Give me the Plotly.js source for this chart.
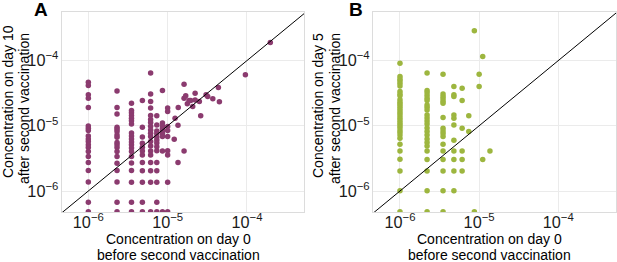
<!DOCTYPE html>
<html>
<head>
<meta charset="utf-8">
<script src="https://cdn.plot.ly/plotly-3.0.1.min.js"></script>
<style>html,body{margin:0;padding:0;background:#fff;}#chart{width:617px;height:262px;}</style>
</head>
<body>
<div id="chart"></div>
<script>
// ---------- Panel A: day 0 vs day 10 ----------
const aDay0Levels = [1.0e-6, 2.3e-6, 3.5e-6, 4.8e-6, 6.1e-6, 7.3e-6, 8.6e-6, 1.0e-5];
const aDay10ByLevel = [
  [4.67e-5, 4.14e-5, 2.98e-5, 2.65e-5, 1.90e-5, 9.96e-6, 9.18e-6, 8.44e-6, 7.0e-6, 6.3e-6, 5.72e-6, 5.1e-6, 4.63e-6, 4.02e-6, 3.37e-6, 2.73e-6, 2.06e-6, 1.37e-6, 6.7e-7, 4.8e-7],
  [3.43e-5, 1.9e-5, 1.51e-5, 9.5e-6, 8.87e-6, 8.15e-6, 7.24e-6, 6.68e-6, 5.52e-6, 5.1e-6, 4.63e-6, 4.02e-6, 3.37e-6, 2.67e-6, 2.06e-6, 1.37e-6, 6.7e-7, 4.8e-7],
  [2.22e-5, 1.72e-5, 1.58e-5, 1.44e-5, 1.31e-5, 1.2e-5, 1.07e-5, 7.78e-6, 7.0e-6, 6.3e-6, 5.66e-6, 5.1e-6, 4.58e-6, 4.05e-6, 3.37e-6, 2.69e-6, 2.06e-6, 1.36e-6, 6.7e-7, 4.8e-7],
  [2.45e-5, 9.5e-6, 6.76e-6, 5.4e-6, 4.7e-6, 4.1e-6, 3.56e-6, 2.73e-6, 2.05e-6, 1.36e-6, 6.7e-7, 4.8e-7],
  [6.47e-5, 3.06e-5, 2.35e-5, 1.88e-5, 1.44e-5, 1.25e-5, 1.12e-5, 9.8e-6, 8.65e-6, 7.7e-6, 6.83e-6, 5.72e-6, 4.92e-6, 4.12e-6, 3.58e-6, 2.73e-6, 2.05e-6, 1.36e-6, 4.8e-7],
  [1.42e-5, 1.03e-5, 8.35e-6, 7.52e-6, 6.76e-6, 6.08e-6, 5.47e-6, 4.75e-6, 4.15e-6, 2.73e-6, 2.05e-6, 1.36e-6, 6.7e-7, 4.8e-7],
  [3.49e-5, 1.1e-5, 9.96e-6, 9.12e-6, 8.35e-6, 7.64e-6, 6.83e-6, 4.12e-6, 4.8e-7],
  [1.88e-5, 1.65e-5, 9.72e-6, 8.44e-6, 6.83e-6, 4.15e-6, 3.58e-6, 1.36e-6, 4.8e-7]
];
const aExtraDay0  = [1.21e-5, 1.24e-5, 1.35e-5, 1.35e-5, 1.36e-5, 1.61e-5, 1.61e-5, 1.69e-5, 1.61e-5, 1.77e-5, 1.86e-5, 1.95e-5, 2.07e-5, 2.22e-5, 2.22e-5, 2.51e-5, 2.61e-5, 3.05e-5, 3.2e-5, 3.71e-5, 4.36e-5, 4.49e-5, 9.55e-5, 1.97e-4];
const aExtraDay10 = [6.22e-6, 1.31e-5, 1.02e-5, 2.73e-6, 1.9e-5, 4.35e-5, 2.65e-5, 2.88e-5, 4.12e-6, 2.17e-5, 2.44e-5, 2.44e-5, 1.97e-5, 3.16e-5, 2.49e-5, 2.35e-5, 1.42e-5, 2.98e-5, 2.81e-5, 2.59e-5, 3.85e-5, 2.33e-5, 6.04e-5, 1.89e-4];

// ---------- Panel B: day 0 vs day 5 ----------
const bDay0Levels = [1.0e-6, 2.2e-6, 3.5e-6, 4.8e-6, 6.1e-6, 7.4e-6, 8.7e-6, 1.0e-5, 1.11e-5, 1.37e-5];
const bDay5ByLevel = [
  [9.12e-5, 5.69e-5, 5.24e-5, 4.89e-5, 4.5e-5, 4.09e-5, 3.35e-5, 3.08e-5, 2.88e-5, 2.5e-5, 2.3e-5, 2.14e-5, 1.97e-5, 1.82e-5, 1.69e-5, 1.56e-5, 1.43e-5, 1.31e-5, 1.2e-5, 1.1e-5, 1.03e-5, 9.5e-6, 8.65e-6, 7.98e-6, 7.24e-6, 6.45e-6, 5.22e-6, 4.12e-6, 3.08e-6, 2.03e-6, 1.01e-6, 4.8e-7],
  [6.47e-5, 3.49e-5, 3.2e-5, 2.91e-5, 2.65e-5, 2.44e-5, 2.09e-5, 1.93e-5, 1.75e-5, 1.47e-5, 1.32e-5, 1.18e-5, 1.07e-5, 9.29e-6, 8.21e-6, 7.24e-6, 6.3e-6, 5.56e-6, 4.92e-6, 4.12e-6, 3.05e-6, 2.03e-6, 1.01e-6, 4.8e-7],
  [6.18e-5, 3.08e-5, 2.82e-5, 2.59e-5, 2.37e-5, 2.21e-5, 1.34e-5, 9.18e-6, 8.35e-6, 7.59e-6, 6.87e-6, 5.22e-6, 4.12e-6, 3.05e-6, 2.03e-6, 1.01e-6, 4.8e-7],
  [4.02e-5, 2.98e-5, 2.82e-5, 1.47e-5, 1.31e-5, 1.03e-5, 6.01e-6, 4.12e-6, 3.05e-6, 2.03e-6, 1.01e-6],
  [3.78e-5, 2.45e-5, 9.18e-6, 4.12e-6, 3.05e-6, 2.03e-6],
  [1.43e-5, 8.15e-6],
  [2.86e-4, 4.8e-7],
  [6.18e-5, 3.99e-5],
  [1.15e-4, 3.05e-6],
  [4.12e-6]
];

// ---------- Texts ----------
const xTitleLines = ['Concentration on day 0', 'before second vaccination'];
const yTitleLinesA = ['Concentration on day 10', 'after second vaccination'];
const yTitleLinesB = ['Concentration on day 5', 'after second vaccination'];
const panelLabels = ['A', 'B'];

const identityLine = [1e-7, 1e-3];
const FONT = 'Liberation Sans, Arial, sans-serif';
const tickFont = {family: FONT, size: 13, color: '#1a1a1a'};
const titleFont = {family: FONT, size: 14, color: '#000'};

function flatten(levels, byLevel) {
  const xs = [], ys = [];
  levels.forEach((lv, i) => byLevel[i].forEach(v => { xs.push(lv); ys.push(v); }));
  return {xs, ys};
}
const A = flatten(aDay0Levels, aDay10ByLevel);
const B = flatten(bDay0Levels, bDay5ByLevel);

const purple = '#8b3b6f';
const green = '#9db63f';

const traces = [
  {x: A.xs.concat(aExtraDay0), y: A.ys.concat(aExtraDay10), type: 'scatter', mode: 'markers',
   marker: {color: purple, size: 5.5}, xaxis: 'x', yaxis: 'y'},
  {x: identityLine, y: identityLine, type: 'scatter', mode: 'lines',
   line: {color: '#000', width: 1}, xaxis: 'x', yaxis: 'y'},
  {x: B.xs, y: B.ys, type: 'scatter', mode: 'markers',
   marker: {color: green, size: 5.5}, xaxis: 'x2', yaxis: 'y2'},
  {x: identityLine, y: identityLine, type: 'scatter', mode: 'lines',
   line: {color: '#000', width: 1}, xaxis: 'x2', yaxis: 'y2'}
];

const W = 617, PLOT_TOP = 12, PLOT_BOTTOM = 212, PH = 200;
const py = px => (PLOT_BOTTOM - px) / PH;   // pixel row -> paper y
const axCommon = {
  type: 'log', dtick: 1, exponentformat: 'power', showexponent: 'all',
  showgrid: true, gridcolor: '#ebebeb', gridwidth: 1,
  zeroline: false, showline: true, mirror: true, linecolor: '#dcdcdc', linewidth: 1,
  ticks: '', tickfont: tickFont, automargin: false
};
const xAx = Object.assign({}, axCommon, {ticklabelstandoff: -4});

function txt(text, xpx, ypx, angle, font) {
  return {text: text, xref: 'paper', yref: 'paper', x: xpx / W, y: py(ypx), showarrow: false,
          xanchor: 'center', yanchor: 'middle', textangle: angle || 0, font: font, borderpad: 0};
}

const annotations = [
  txt(xTitleLines[0], 178, 239, 0, titleFont),
  txt(xTitleLines[1], 178, 255, 0, titleFont),
  txt(xTitleLines[0], 489, 239, 0, titleFont),
  txt(xTitleLines[1], 489, 255, 0, titleFont),
  txt(yTitleLinesA[0], 8, 102, -90, titleFont),
  txt(yTitleLinesA[1], 24, 109, -90, titleFont),
  txt(yTitleLinesB[0], 318, 105, -90, titleFont),
  txt(yTitleLinesB[1], 335, 109, -90, titleFont),
  txt('<b>' + panelLabels[0] + '</b>', 41, 9, 0, {family: FONT, size: 19, color: '#000'}),
  txt('<b>' + panelLabels[1] + '</b>', 356, 9, 0, {family: FONT, size: 19, color: '#000'})
];

const layout = {
  width: 617, height: 262,
  margin: {l: 0, r: 0, t: PLOT_TOP, b: 262 - PLOT_BOTTOM},
  paper_bgcolor: '#fff', plot_bgcolor: '#fff',
  showlegend: false,
  xaxis: Object.assign({}, xAx, {domain: [62 / W, 304 / W], range: [-6.332, -3.281], anchor: 'y'}),
  yaxis: Object.assign({}, axCommon, {domain: [0, 1], range: [-6.322, -3.255], anchor: 'x'}),
  xaxis2: Object.assign({}, xAx, {domain: [373.3 / W, 616 / W], range: [-6.337, -3.271], anchor: 'y2'}),
  yaxis2: Object.assign({}, axCommon, {domain: [0, 1], range: [-6.322, -3.255], anchor: 'x2'}),
  annotations: annotations
};

Plotly.newPlot('chart', traces, layout, {staticPlot: true, displayModeBar: false});
</script>
</body>
</html>
